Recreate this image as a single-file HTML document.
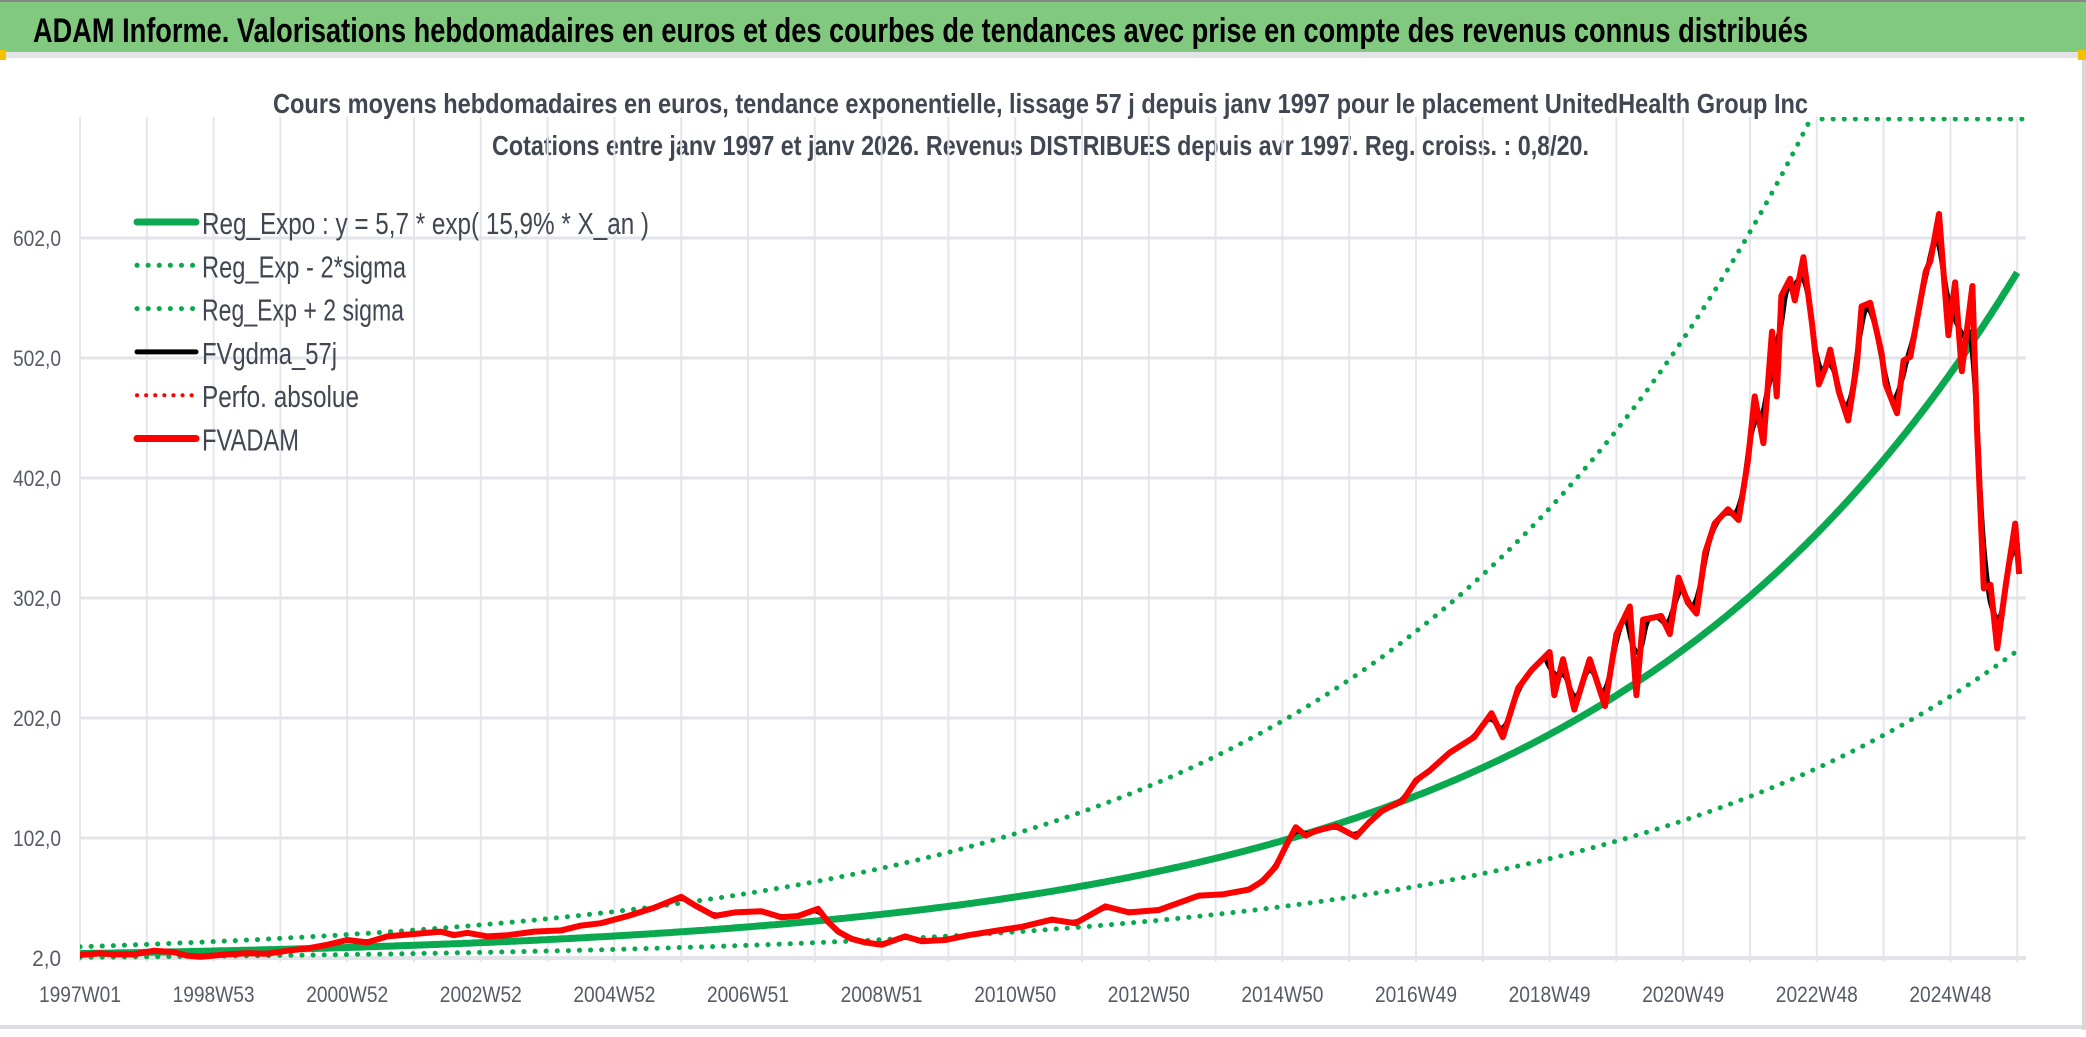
<!DOCTYPE html>
<html><head><meta charset="utf-8"><style>
body{margin:0;background:#fff;}
svg{display:block;font-family:"Liberation Sans",sans-serif;}
</style></head><body>
<svg id="chart" width="2086" height="1037" viewBox="0 0 2086 1037" xmlns="http://www.w3.org/2000/svg">
<rect x="0" y="0" width="2086" height="1037" fill="#fff"/>
<rect x="0" y="0" width="2086" height="52" fill="#80c97e"/>
<rect x="0" y="0" width="2086" height="2" fill="#888"/>
<rect x="0" y="52" width="2086" height="6" fill="#e3e3e8"/>
<rect x="0" y="50" width="6" height="10" fill="#f5c000"/>
<rect x="2078" y="50" width="8" height="10" fill="#f5c000"/>
<rect x="0" y="1025" width="2086" height="4" fill="#dcdce2"/>
<rect x="2082" y="60" width="4" height="970" fill="#d8d8d8"/>
<text x="33" y="42" font-size="34" font-weight="bold" fill="#000" textLength="1775" lengthAdjust="spacingAndGlyphs">ADAM Informe. Valorisations hebdomadaires en euros et des courbes de tendances avec prise en compte des revenus connus distribués</text>
<text x="273" y="113" font-size="28" font-weight="bold" fill="#404652" textLength="1535" lengthAdjust="spacingAndGlyphs">Cours moyens hebdomadaires en euros, tendance exponentielle, lissage 57 j depuis janv 1997 pour le placement UnitedHealth Group Inc</text>
<text x="492" y="155" font-size="28" font-weight="bold" fill="#404652" textLength="1097" lengthAdjust="spacingAndGlyphs">Cotations entre janv 1997 et janv 2026. Revenus DISTRIBUES depuis avr 1997. Reg. croiss. : 0,8/20.</text>
<g id="grid"></g>
<g id="axes"></g>
<defs><clipPath id="plotclip"><rect x="80" y="117" width="1946" height="845"/></clipPath></defs>
<g id="series" clip-path="url(#plotclip)"></g>
<g id="legend"></g>
</svg>
<script>
// ---- data ----
const priceYears = [1997,1997.3,1997.5,1997.8,1998.1,1998.4,1998.6,1998.8,1999.2,1999.5,1999.8,2000.1,2000.4,2000.7,2001,2001.3,2001.6,2002.0,2002.4,2002.6,2002.8,2003.1,2003.4,2003.8,2004.2,2004.5,2004.8,2005.2,2005.6,2006.0,2006.2,2006.5,2006.8,2007.2,2007.5,2007.75,2008.05,2008.2,2008.35,2008.55,2008.75,2009.0,2009.35,2009.6,2009.95,2010.3,2010.75,2011.1,2011.55,2011.9,2012.35,2012.7,2013.15,2013.45,2013.75,2014.1,2014.5,2014.7,2014.9,2015.05,2015.2,2015.35,2015.5,2015.8,2016.1,2016.3,2016.5,2016.8,2017.0,2017.2,2017.5,
2017.87,2018.13,2018.3,2018.53,2018.73,2019.0,2019.07,2019.2,2019.37,2019.6,2019.83,2020.0,2020.2,2020.3,2020.4,2020.67,2020.8,2020.93,2021.07,2021.2,2021.33,2021.47,2021.67,2021.83,2021.97,2022.07,2022.2,2022.33,2022.4,2022.47,2022.6,2022.67,2022.8,2022.93,2023.03,2023.13,2023.2,2023.33,2023.47,2023.6,2023.67,2023.8,2023.97,2024.03,2024.2,2024.3,2024.4,2024.63,2024.7,2024.83,2024.97,2025.07,2025.17,2025.33,2025.4,2025.5,2025.6,2025.7,2025.83,2025.97,2026.03];
const priceValues = [4.5,6,5,5,8,7,4,3,5,6,5.6,8,10,13,17,15,20,22,24,21,23,20,21,24,25,29,31,37,44,53,46,37,40,41,36,37,43,32,24,18,15,13,20,16,17,21,25,28,34,31,45,40,42,48,54,55,59,66,78,95,111,104,108,112,103,115,125,133,150,158,173,
186,206,186,227,242,257,221,251,209,251,212,272,295,221,284,287,272,319,298,289,340,364,376,367,417,470,431,524,470,554,568,550,586,530,480,494,509,474,450,497,545,548,506,480,456,500,503,574,583,622,521,565,491,562,441,310,313,260,313,364,322,334,326];
const yTicks = [2,102,202,302,402,502,602];
const yTickLabels = ["2,0","102,0","202,0","302,0","402,0","502,0","602,0"];
const xLabels = ["1997W01","1998W53","2000W52","2002W52","2004W52","2006W51","2008W51","2010W50","2012W50","2014W50","2016W49","2018W49","2020W49","2022W48","2024W48"];
const regA = [5.7];
const regRate = [0.159];
const bandFactors = [0.45, 2.0];

// ---- axes ----
const X0=80, PXY=66.8, Y0=958, PXV=1.2;
const xs = yr => X0 + (yr-1997)*PXY;
const ys = v => Y0 - (v-2)*PXV;
const NS="http://www.w3.org/2000/svg";
function mk(tag, attrs, parent){const e=document.createElementNS(NS,tag);for(const k in attrs)e.setAttribute(k,attrs[k]);parent.appendChild(e);return e;}
const grid=document.getElementById('grid'), axes=document.getElementById('axes'), series=document.getElementById('series'), legend=document.getElementById('legend');

for(let k=0;k<=29;k++){
  const l=mk('line',{x1:xs(1997+k),x2:xs(1997+k),y1:117,y2:962,stroke:'#e4e6ec','stroke-width':2},grid);
  
  
}
yTicks.forEach((v,i)=>{
  const l=mk('line',{x1:80,x2:2026,y1:ys(v),y2:ys(v),stroke:'#e2e4ea','stroke-width':i===0?4:3},grid);
  
  
  const t=mk('text',{x:61,y:ys(v)+8,'font-size':22,fill:'#555a66','text-anchor':'end',textLength:yTickLabels[i].length*9.6,lengthAdjust:'spacingAndGlyphs'},axes);
  t.textContent=yTickLabels[i];
  
  
});
xLabels.forEach((s,i)=>{
  const t=mk('text',{x:xs(1997+2*i)-41,y:1002,'font-size':22,fill:'#555a66',textLength:82,lengthAdjust:'spacingAndGlyphs'},axes);
  t.textContent=s;
  
  
});

// regression curves
function regPath(f){let d='';for(let y=1997;y<=2026.04;y+=0.05){const v=regA[0]*Math.exp(regRate[0]*(y-1997))*f;d+=(d?'L':'M')+xs(y).toFixed(1)+' '+ys(v).toFixed(1);}return d;}
const low=mk('path',{d:regPath(bandFactors[0]),fill:'none',stroke:'#0aa84f','stroke-width':5,'stroke-dasharray':'0.1 11','stroke-linecap':'round'},series);


const up=mk('path',{d:regPath(bandFactors[1]),fill:'none',stroke:'#0aa84f','stroke-width':5,'stroke-dasharray':'0.1 11','stroke-linecap':'round'},series);


const reg=mk('path',{d:regPath(1),fill:'none',stroke:'#0aa84f','stroke-width':7},series);


const cap=mk('line',{x1:1822,x2:2026,y1:119,y2:119,stroke:'#0aa84f','stroke-width':5,'stroke-dasharray':'0.1 11','stroke-linecap':'round'},series);



// smoothed line (moving average of the price series)
function interp(y){for(let i=1;i<priceYears.length;i++){if(y<=priceYears[i]){const t=(y-priceYears[i-1])/(priceYears[i]-priceYears[i-1]);return priceValues[i-1]+t*(priceValues[i]-priceValues[i-1]);}}return priceValues[priceValues.length-1];}
const wk=[];for(let y=1997;y<=2026.03;y+=1/52)wk.push([y,interp(y)]);
let dS='';wk.forEach((p,i)=>{let s=0,n=0;for(let j=Math.max(0,i-5);j<=Math.min(wk.length-1,i+5);j++){s+=wk[j][1];n++;}dS+=(dS?'L':'M')+xs(p[0]).toFixed(1)+' '+ys(s/n).toFixed(1);});
const sm=mk('path',{d:dS,fill:'none',stroke:'#000','stroke-width':5,'stroke-linejoin':'round'},series);


let dP='';priceYears.forEach((y,i)=>{dP+=(i?'L':'M')+xs(y).toFixed(1)+' '+ys(priceValues[i]).toFixed(1);});
const pr=mk('path',{d:dP,fill:'none',stroke:'#ff0000','stroke-width':6,'stroke-linejoin':'round'},series);



// legend
const legItems=[["Reg_Expo : y = 5,7 * exp( 15,9% *  X_an )",'#0aa84f',7,null,447],["Reg_Exp - 2*sigma",'#0aa84f',5,'0.1 11',204],["Reg_Exp + 2 sigma",'#0aa84f',5,'0.1 11',202],["FVgdma_57j",'#000',5,null,135],["Perfo. absolue",'#ff0000',4,'0.1 9',157],["FVADAM",'#ff0000',7,null,97]];
legItems.forEach((it,i)=>{
  const y=222+i*43.3;
  const g=mk('g',{},legend);
  
  
  const a={x1:137,x2:196,y1:y,y2:y,stroke:it[1],'stroke-width':it[2],'stroke-linecap':'round'};
  if(it[3])a['stroke-dasharray']=it[3];
  mk('line',a,g);
  const t=mk('text',{x:202,y:y+12,'font-size':31,fill:'#404652',textLength:it[4],lengthAdjust:'spacingAndGlyphs'},g);
  t.textContent=it[0];
});
</script>
</body></html>
